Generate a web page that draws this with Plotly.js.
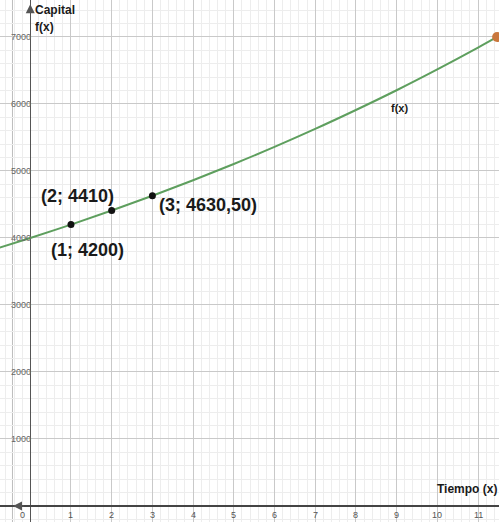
<!DOCTYPE html>
<html>
<head>
<meta charset="utf-8">
<script src="https://cdn.plot.ly/plotly-3.0.1.min.js"></script>
<style>html,body{margin:0;padding:0;background:#fff;}#chart{width:499px;height:522px;}</style>
</head>
<body>
<div id="chart"></div>
<script>
// Curve f(x) = capital over time
const curveX = [-0.75, 0, 1, 2, 3, 4, 5, 6, 7, 8, 9, 10, 11, 11.47];
const curveY = [3856, 4000, 4200, 4410, 4630.5, 4862, 5105, 5360, 5628, 5910, 6205, 6516, 6841, 7000];

// Marked points
const pointX = [1, 2, 3];
const pointY = [4200, 4410, 4630.5];
const pointLabels = ['(1; 4200)', '(2; 4410)', '(3; 4630,50)'];

// End point of the curve
const endX = [11.47];
const endY = [7000];

// Tick labels
const xTicks = [0, 1, 2, 3, 4, 5, 6, 7, 8, 9, 10, 11];
const yTicks = [1000, 2000, 3000, 4000, 5000, 6000, 7000];

const FONT = 'Liberation Sans, Arial, sans-serif';

const traces = [
  {x: curveX, y: curveY, mode: 'lines', line: {color: '#5e9f5e', width: 2, shape: 'spline'}, hoverinfo: 'skip'},
  {x: pointX, y: pointY, mode: 'markers', marker: {color: '#111', size: 7}},
  {x: endX, y: endY, mode: 'markers', marker: {color: '#c9773d', size: 10}, cliponaxis: false}
];

const labelShift = [[17, -25], [-34, 15], [56, -9]];
const annotations = [];
pointLabels.forEach((t, i) => {
  annotations.push({x: pointX[i], y: pointY[i], xref: 'x', yref: 'y', text: t, showarrow: false,
    xshift: labelShift[i][0], yshift: labelShift[i][1],
    font: {family: FONT, size: 18, color: '#1a1a1a', weight: 'bold'}});
});
xTicks.forEach(v => {
  annotations.push({x: v, y: 0, xref: 'x', yref: 'y', text: String(v), showarrow: false,
    yanchor: 'top', yshift: -2, xshift: v === 0 ? -8 : 0,
    font: {family: FONT, size: 9, color: '#555'}});
});
yTicks.forEach(v => {
  annotations.push({x: 0, y: v, xref: 'x', yref: 'y', text: String(v), showarrow: false,
    xanchor: 'right', xshift: 3,
    font: {family: FONT, size: 9, color: '#666'}});
});
annotations.push({x: 0, y: 0.981, xref: 'x', yref: 'paper', text: 'Capital', showarrow: false,
  xanchor: 'left', yanchor: 'middle', xshift: 3, font: {family: FONT, size: 12, color: '#1a1a1a', weight: 'bold'}});
annotations.push({x: 0, y: 0.948, xref: 'x', yref: 'paper', text: 'f(x)', showarrow: false,
  xanchor: 'left', yanchor: 'middle', xshift: 3, font: {family: FONT, size: 12, color: '#1a1a1a', weight: 'bold'}});
annotations.push({x: 1, y: 0, xref: 'paper', yref: 'y', text: 'Tiempo (x)', showarrow: false,
  xanchor: 'right', yanchor: 'middle', yshift: 17, font: {family: FONT, size: 12, color: '#1a1a1a', weight: 'bold'}});
annotations.push({x: 9, y: 6205, xref: 'x', yref: 'y', text: 'f(x)', showarrow: false,
  xshift: 3, yshift: -18, font: {family: FONT, size: 11, color: '#1a1a1a', weight: 'bold'}});
// axis arrows
annotations.push({x: 0, y: 0.992, xref: 'x', yref: 'paper', ax: 0, ay: 14, showarrow: true,
  arrowhead: 2, arrowsize: 1.8, arrowwidth: 1, arrowcolor: '#555', text: ' ', standoff: 0});
annotations.push({x: 0.026, y: 0, xref: 'paper', yref: 'y', ax: 14, ay: 0, showarrow: true,
  arrowhead: 2, arrowsize: 1.8, arrowwidth: 1, arrowcolor: '#555', text: ' ', standoff: 0});

const layout = {
  width: 499, height: 522,
  margin: {l: 0, r: 0, t: 0, b: 0},
  paper_bgcolor: '#fff', plot_bgcolor: '#fff',
  showlegend: false,
  xaxis: {range: [-0.744, 11.516], dtick: 1, tick0: 0, showticklabels: false, ticks: '',
    showgrid: true, gridcolor: '#c9c9c9', gridwidth: 1,
    minor: {dtick: 0.2, tick0: 0, showgrid: true, gridcolor: '#ededed', gridwidth: 1, ticks: ''},
    zeroline: true, zerolinecolor: '#555', zerolinewidth: 1.5, showline: false},
  yaxis: {range: [-239, 7552], dtick: 1000, tick0: 0, showticklabels: false, ticks: '',
    showgrid: true, gridcolor: '#c9c9c9', gridwidth: 1,
    minor: {dtick: 200, tick0: 0, showgrid: true, gridcolor: '#ededed', gridwidth: 1, ticks: ''},
    zeroline: true, zerolinecolor: '#444', zerolinewidth: 1.5, showline: false},
  shapes: [{type: 'line', xref: 'paper', yref: 'paper', x0: 0.025, x1: 0.025, y0: 0, y1: 1,
    line: {color: '#bdbdbd', width: 1}, layer: 'below'}],
  annotations: annotations
};

Plotly.newPlot('chart', traces, layout, {displayModeBar: false, staticPlot: true});
</script>
</body>
</html>
